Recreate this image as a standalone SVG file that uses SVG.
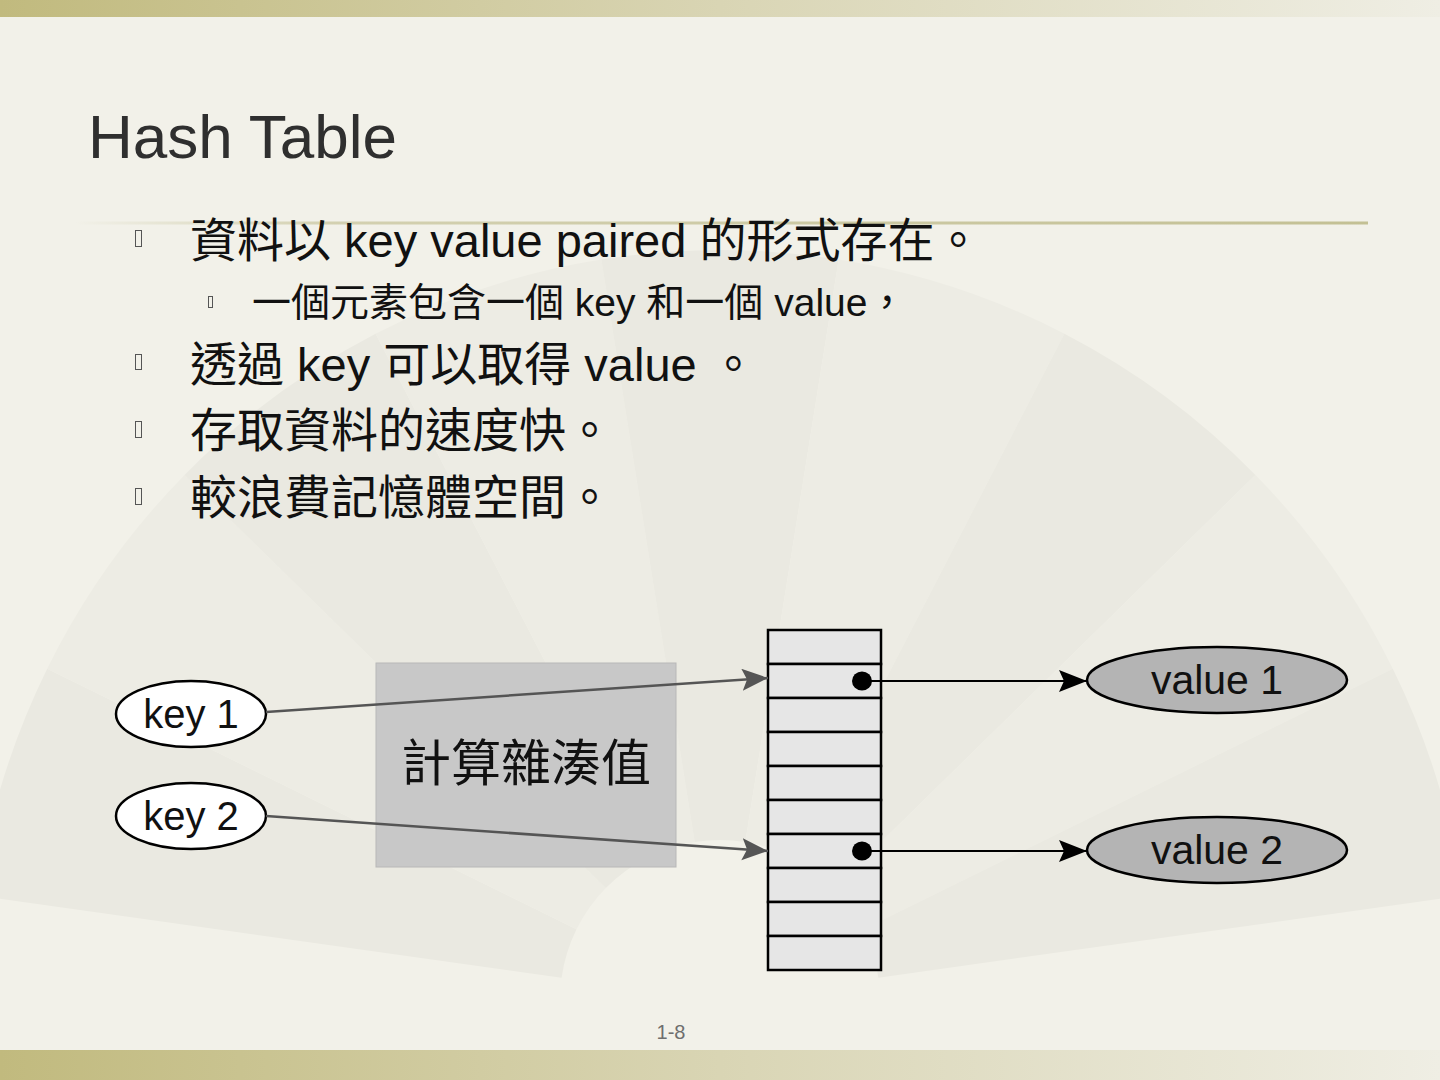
<svg xmlns="http://www.w3.org/2000/svg" width="1440" height="1080" viewBox="0 0 1440 1080">
<defs>
<linearGradient id="band" x1="0" y1="0" x2="1" y2="0">
<stop offset="0" stop-color="#c1ba7e"/>
<stop offset="0.5" stop-color="#d9d5b4"/>
<stop offset="1" stop-color="#efeee4"/>
</linearGradient>
<linearGradient id="rule" gradientUnits="userSpaceOnUse" x1="75" y1="0" x2="1368" y2="0">
<stop offset="0" stop-color="#c6c39a" stop-opacity="0"/>
<stop offset="0.2" stop-color="#cbc8a2" stop-opacity="0.8"/>
<stop offset="1" stop-color="#c3c094"/>
</linearGradient>
<marker id="ag" markerUnits="userSpaceOnUse" markerWidth="28" markerHeight="24" refX="26" refY="11" orient="auto">
<path d="M0,0 L26,11 L0,22 L5,11 z" fill="#555555"/>
</marker>
<marker id="ab" markerUnits="userSpaceOnUse" markerWidth="30" markerHeight="24" refX="28" refY="11" orient="auto">
<path d="M0,0 L28,11 L0,22 L5,11 z" fill="#000000"/>
</marker>
</defs>
<style>
text{font-family:"Liberation Sans","Noto Sans CJK TC",sans-serif}
.body{font-size:47px;fill:#111111}
.sub{font-size:39px;fill:#111111}
.tofu{fill:none;stroke:#555555;stroke-width:1}
.lbl{font-size:40px;fill:#111111;text-anchor:middle}
.vlbl{font-size:41px;fill:#111111;text-anchor:middle}
.node{stroke:#000000;stroke-width:2.5}
.cell{fill:#e6e6e6;stroke:#000000;stroke-width:2.5}
.kline{stroke:#555555;stroke-width:2.5;fill:none;marker-end:url(#ag)}
.vline{stroke:#000000;stroke-width:2;fill:none;marker-end:url(#ab)}
.p1{fill:#eae9e1}
.p2{fill:#edece4}
</style>
<rect x="0" y="0" width="1440" height="1080" fill="#f2f1e9"/>
<g id="fan">
<path class="p1" d="M-22.7,895.6 A750,750 0 0 1 47.2,668.7 L576.5,929.3 A160,160 0 0 0 561.6,977.7 Z"/>
<path class="p2" d="M47.2,668.7 A750,750 0 0 1 184.6,474.9 L605.8,888 A160,160 0 0 0 576.5,929.3 Z"/>
<path class="p1" d="M184.6,474.9 A750,750 0 0 1 375.6,333.7 L646.5,857.9 A160,160 0 0 0 605.8,888 Z"/>
<path class="p2" d="M375.6,333.7 A750,750 0 0 1 601.3,259.5 L694.7,842 A160,160 0 0 0 646.5,857.9 Z"/>
<path class="p1" d="M601.3,259.5 A750,750 0 0 1 838.7,259.5 L745.3,842 A160,160 0 0 0 694.7,842 Z"/>
<path class="p2" d="M838.7,259.5 A750,750 0 0 1 1064.4,333.7 L793.5,857.9 A160,160 0 0 0 745.3,842 Z"/>
<path class="p1" d="M1064.4,333.7 A750,750 0 0 1 1255.4,474.9 L834.2,888 A160,160 0 0 0 793.5,857.9 Z"/>
<path class="p2" d="M1255.4,474.9 A750,750 0 0 1 1392.8,668.7 L863.5,929.3 A160,160 0 0 0 834.2,888 Z"/>
<path class="p1" d="M1392.8,668.7 A750,750 0 0 1 1462.7,895.6 L878.4,977.7 A160,160 0 0 0 863.5,929.3 Z"/>
</g>
<rect x="0" y="0" width="1440" height="17" fill="url(#band)"/>
<rect x="0" y="1050" width="1440" height="30" fill="url(#band)"/>
<line x1="75" y1="223" x2="1368" y2="223" stroke="url(#rule)" stroke-width="3"/>
<text x="88" y="158" style="font-size:62px;fill:#2f2f2f">Hash Table</text>
<g id="bullets">
<rect class="tofu" x="135.5" y="230.5" width="6" height="16"/>
<text class="body" x="190" y="257">資料以 key value paired 的形式存在。</text>
<rect class="tofu" x="208.5" y="296.5" width="4" height="11"/>
<text class="sub" x="252" y="316">一個元素包含一個 key 和一個 value，</text>
<rect class="tofu" x="135.5" y="354.5" width="6" height="15"/>
<text class="body" x="190" y="381">透過 key 可以取得 value 。</text>
<rect class="tofu" x="135.5" y="421.5" width="6" height="16"/>
<text class="body" x="190" y="447">存取資料的速度快。</text>
<rect class="tofu" x="135.5" y="488.5" width="6" height="16"/>
<text class="body" x="190" y="514">較浪費記憶體空間。</text>
</g>
<g id="hash-box">
<rect x="376" y="663" width="300" height="204" fill="#c8c8c8" stroke="#b8b8b8" stroke-width="1"/>
<text x="526" y="781" style="font-size:50px;fill:#111111;text-anchor:middle">計算雜湊值</text>
</g>
<g id="key1">
<ellipse class="node" cx="191" cy="714" rx="75" ry="33" fill="#ffffff"/>
<text class="lbl" x="191" y="728">key 1</text>
</g>
<g id="key2">
<ellipse class="node" cx="191" cy="816" rx="75" ry="33" fill="#ffffff"/>
<text class="lbl" x="191" y="830">key 2</text>
</g>
<g id="table">
<rect class="cell" x="768" y="630" width="113" height="34"/>
<rect class="cell" x="768" y="664" width="113" height="34"/>
<rect class="cell" x="768" y="698" width="113" height="34"/>
<rect class="cell" x="768" y="732" width="113" height="34"/>
<rect class="cell" x="768" y="766" width="113" height="34"/>
<rect class="cell" x="768" y="800" width="113" height="34"/>
<rect class="cell" x="768" y="834" width="113" height="34"/>
<rect class="cell" x="768" y="868" width="113" height="34"/>
<rect class="cell" x="768" y="902" width="113" height="34"/>
<rect class="cell" x="768" y="936" width="113" height="34"/>
</g>
<g id="value1">
<ellipse class="node" cx="1217" cy="680" rx="130" ry="33" fill="#b4b4b4"/>
<text class="vlbl" x="1217" y="694">value 1</text>
</g>
<g id="value2">
<ellipse class="node" cx="1217" cy="850" rx="130" ry="33" fill="#b4b4b4"/>
<text class="vlbl" x="1217" y="864">value 2</text>
</g>
<g id="connectors">
<line class="kline" x1="266" y1="712" x2="768" y2="678"/>
<line class="kline" x1="266" y1="816" x2="768" y2="851"/>
<ellipse cx="862" cy="681" rx="10" ry="9.5" fill="#000000"/>
<ellipse cx="862" cy="851" rx="10" ry="9.5" fill="#000000"/>
<line class="vline" x1="862" y1="681" x2="1087" y2="681"/>
<line class="vline" x1="862" y1="851" x2="1087" y2="851"/>
</g>
<text x="671" y="1039" style="font-size:20px;fill:#6e6e6e;text-anchor:middle">1-8</text>
</svg>
